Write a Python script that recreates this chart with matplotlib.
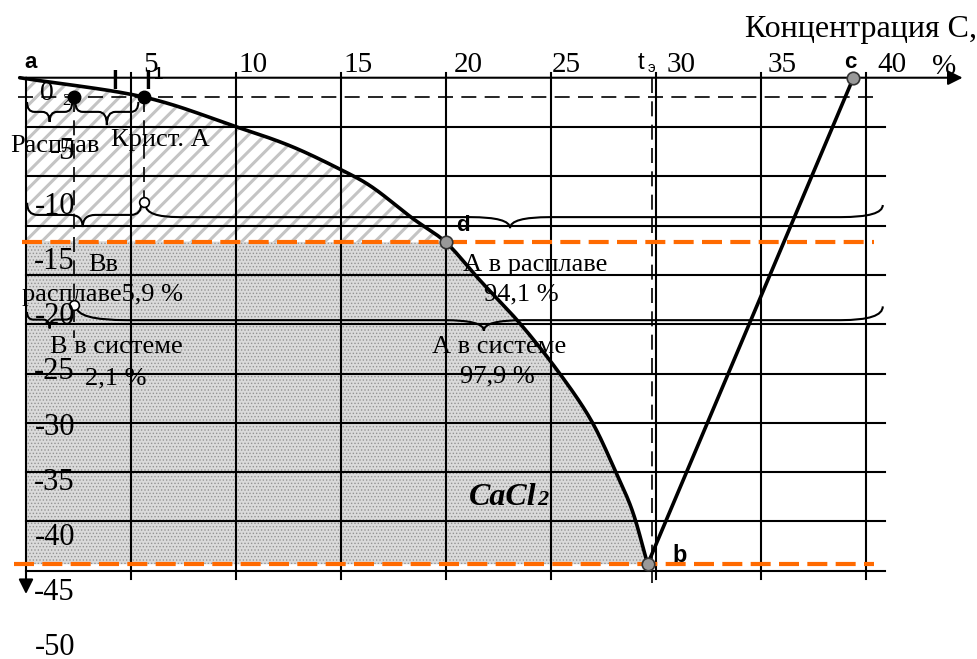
import matplotlib.pyplot as plt
import numpy as np
from matplotlib.path import Path
from matplotlib.patches import PathPatch

SERIF = 'Liberation Serif'
SANS = 'Liberation Sans'

# axis ticks
x_ticks = [5, 10, 15, 20, 25, 30, 35, 40]
x_tick_shift = [0.57, 0.1, 0.1, 0.38, 0.05, 0.52, 0.29, 0.52]
y_ticks = [-5, -10, -15, -20, -25, -30, -35, -40, -45, -50]

# liquidus a - l1 - d - b  (concentration %, temperature)
liq_x = [-0.3, 5.6, 10.0, 12.6, 15.0, 16.5, 18.4, 20.0, 21.6, 23.5, 25.3, 26.9, 28.1, 28.9, 29.6]
liq_t = [1.65, -0.1, -2.8, -4.55, -6.7, -8.3, -11.1, -13.3, -16.7, -20.6, -24.9, -29.4, -34.2, -37.8, -42.5]
# line b - c
bc_x = [29.6, 39.4]
bc_t = [-42.5, 1.65]

T_top = 1.65
x_o2, x_l1, T_start = 2.3, 5.6, -0.1
x_d, T_d = 20.0, -13.3
x_b, T_b = 29.6, -42.5
x_c = 39.4
x_te = 29.8

fig = plt.figure(figsize=(9.77, 6.59), dpi=100)
ax = fig.add_axes([0, 0, 1, 1])
ax.set_xlim(-26 / 21, (977 - 26) / 21)
ax.set_ylim((95.9 - 659) / 11.02, 95.9 / 11.02)
ax.axis('off')


def smooth(xs, ys, n=20):
    # Catmull-Rom drawing of the curve through the read points
    p = np.column_stack([xs, ys])
    p = np.vstack([2 * p[0] - p[1], p, 2 * p[-1] - p[-2]])
    out = []
    s = np.linspace(0, 1, n, endpoint=False)[:, None]
    for i in range(1, len(p) - 2):
        p0, p1, p2, p3 = p[i - 1], p[i], p[i + 1], p[i + 2]
        seg = 0.5 * (2 * p1 + (-p0 + p2) * s + (2 * p0 - 5 * p1 + 4 * p2 - p3) * s ** 2
                     + (-p0 + 3 * p1 - 3 * p2 + p3) * s ** 3)
        out.append(seg)
    out.append(p[-2][None, :])
    out = np.vstack(out)
    return out[:, 0], out[:, 1]


cx, ct = smooth(liq_x, liq_t)

# hatched area (crystals A + melt)
plt.rcParams['hatch.linewidth'] = 2.2
ax.fill_betweenx(ct, 0, np.maximum(cx, 0), where=ct >= T_d, interpolate=True,
                 facecolor='white', edgecolor='#c4c4c4', hatch='//', linewidth=0, zorder=1)
# dotted area below d
plt.rcParams['hatch.linewidth'] = 0.6
ax.fill_betweenx(ct, 0, cx, where=ct <= T_d, interpolate=True,
                 facecolor='#dadada', edgecolor='#939393', hatch='.....', linewidth=0, zorder=1)

# grid
step = 4.474
grid_t = [T_top - step * k for k in range(1, 11)]
for t in grid_t:
    ax.plot([0, 40.9], [t, t], color='black', lw=1.5, zorder=2)
for x in x_ticks:
    ax.plot([x, x], [-43.8, 2.07], color='black', lw=1.5, zorder=2)

# axes with arrows
ax.annotate('', xy=(44.6, T_top), xytext=(0, T_top),
            arrowprops=dict(arrowstyle='-|>', lw=1.5, color='black', mutation_scale=22, shrinkA=0, shrinkB=0), zorder=3)
ax.annotate('', xy=(0, -45.2), xytext=(0, T_top),
            arrowprops=dict(arrowstyle='-|>', lw=1.5, color='black', mutation_scale=22, shrinkA=0, shrinkB=0), zorder=3)

# dashed lines
ax.plot([-0.38, 40.67], [T_start, T_start], color='black', lw=1.2, dashes=(9, 5), zorder=3)
ax.plot([x_te, x_te], [T_top, -44.4], color='black', lw=1.2, dashes=(9, 5), zorder=3)
ax.plot([x_o2, x_o2], [T_start, -22.0], color='black', lw=1.2, dashes=(9, 5), zorder=3)
ax.plot([x_l1, x_l1], [T_start, -9.2], color='black', lw=1.2, dashes=(9, 5), zorder=3)
ax.plot([-0.19, 40.4], [T_d, T_d], color='#ff6a00', lw=3, dashes=(4.8, 2.0), zorder=3)
ax.plot([-0.57, 40.4], [T_b, T_b], color='#ff6a00', lw=3, dashes=(4.8, 2.0), zorder=3)

# curves
ax.plot(cx, ct, color='black', lw=2.6, zorder=4, solid_capstyle='round')
ax.plot(bc_x, bc_t, color='black', lw=2.6, zorder=4, solid_capstyle='round')


def brace(x0, x1, ye, yf, yt, r0, r1, rt, xm=None):
    if xm is None:
        xm = (x0 + x1) / 2
    verts = [(x0, ye), (x0, yf), (x0 + r0, yf), (xm - rt, yf), (xm, yf), (xm, yt),
             (xm, yf), (xm + rt, yf), (x1 - r1, yf), (x1, yf), (x1, ye)]
    codes = [Path.MOVETO, Path.CURVE3, Path.CURVE3, Path.LINETO, Path.CURVE3, Path.CURVE3,
             Path.CURVE3, Path.CURVE3, Path.LINETO, Path.CURVE3, Path.CURVE3]
    ax.add_patch(PathPatch(Path(verts, codes), fill=False, lw=1.5, color='black', zorder=5))


brace(0.05, 2.2, -0.55, -1.45, -2.36, 0.35, 0.35, 0.35)
brace(2.35, 5.35, -0.55, -1.45, -2.63, 0.35, 0.35, 0.4)
brace(0.05, 5.5, -9.7, -10.8, -11.9, 0.5, 0.5, 0.6, xm=2.7)
brace(5.7, 40.8, -9.9, -11.0, -12.0, 1.6, 2.0, 1.9, xm=23.05)
brace(0.05, 2.2, -19.6, -20.3, -21.1, 0.3, 0.3, 0.3)
brace(2.4, 40.8, -19.1, -20.35, -21.3, 2.4, 2.0, 1.9, xm=21.8)

# points
ax.plot([x_o2, x_l1], [T_start, T_start], 'o', color='black', ms=9, zorder=6)
ax.plot([x_d, x_b, x_c], [T_d, T_b, T_top], 'o', mfc='#999999', mec='#333333', mew=1.2, ms=9, zorder=6)
ax.plot([x_l1, x_o2], [-9.65, -19.0], 'o', mfc='white', mec='black', mew=1.2, ms=7, zorder=6)

# tick labels
for x, dx in zip(x_ticks, x_tick_shift):
    ax.text(x + dx, 2.8, str(x), fontsize=21, family=SERIF, ha='left', va='center', zorder=7)
ax.text(43.7, 2.65, '%', fontsize=21, family=SERIF, ha='center', va='center', zorder=7)
for t in y_ticks:
    ax.text(2.33, t - 0.05, str(t), fontsize=22, family=SERIF, ha='right', va='center', zorder=7)
ax.text(45.3, 6.0, 'Концентрация С,', fontsize=23, family=SERIF, ha='right', va='center', zorder=7)

# letters
ax.text(0.24, 3.0, 'a', fontsize=16, family=SANS, weight='bold', ha='center', va='center', zorder=7)
ax.text(39.24, 3.0, 'c', fontsize=16, family=SANS, weight='bold', ha='center', va='center', zorder=7)
ax.text(20.81, -11.8, 'd', fontsize=16, family=SANS, weight='bold', ha='center', va='center', zorder=7)
ax.text(31.14, -41.75, 'b', fontsize=17, family=SANS, weight='bold', ha='center', va='center', zorder=7)
ax.text(4.24, 1.3, 'l', fontsize=18, family=SANS, weight='bold', ha='center', va='center', zorder=7)
ax.text(5.8, 1.3, 'l', fontsize=18, family=SANS, weight='bold', ha='center', va='center', zorder=7)
ax.text(6.3, 1.9, '1', fontsize=12, family=SANS, weight='bold', ha='center', va='center', zorder=7)
ax.text(0.98, 0.25, '0', fontsize=20, family=SERIF, ha='center', va='center', zorder=7)
ax.text(1.93, -0.45, '2', fontsize=12, family=SERIF, ha='center', va='center', zorder=7)
ax.text(29.3, 2.95, 't', fontsize=17, family=SANS, ha='center', va='center', zorder=7)
ax.text(29.8, 2.5, 'э', fontsize=11, family=SANS, ha='center', va='center', zorder=7)

# region texts
kw = dict(fontsize=19, family=SERIF, va='center', zorder=7)
ax.text(1.38, -4.56, 'Расплав', ha='center', **kw)
ax.text(6.38, -4.0, 'Крист. А', ha='center', **kw)
ax.text(2.95, -15.3, 'Вв', ha='left', **kw)
ax.text(-0.19, -18.1, 'расплаве5,9 %', ha='left', **kw)
ax.text(1.14, -22.8, 'В в системе', ha='left', **kw)
ax.text(2.81, -25.6, '2,1 %', ha='left', **kw)
ax.text(24.24, -15.35, 'А в расплаве', ha='center', **kw)
ax.text(23.6, -18.0, '94,1 %', ha='center', **kw)
ax.text(22.55, -22.8, 'А в системе', ha='center', **kw)
ax.text(22.45, -25.5, '97,9 %', ha='center', **kw)
ax.text(22.7, -36.4, 'CaCl', fontsize=23, family=SERIF, weight='bold', style='italic',
        ha='center', va='center', zorder=7)
ax.text(24.6, -36.7, '2', fontsize=16, family=SERIF, weight='bold', style='italic',
        ha='center', va='center', zorder=7)

fig.savefig('out.png', dpi=100)
